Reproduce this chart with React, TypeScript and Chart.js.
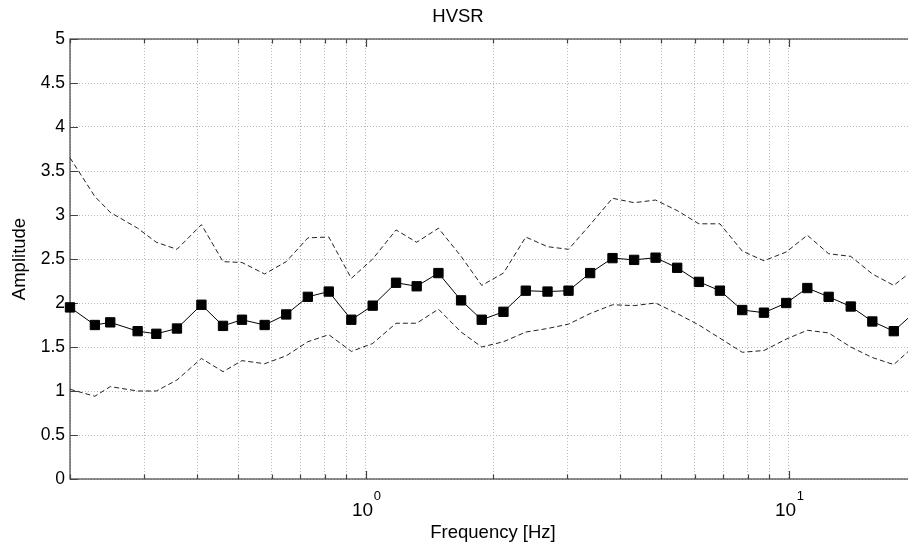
import React, { useEffect, useRef } from "react";
import { Chart, registerables } from "chart.js";

Chart.register(...registerables);

// ---- data ----
const frequencies = [
  0.2, 0.229, 0.249, 0.289, 0.32, 0.358, 0.409, 0.46, 0.51, 0.577,
  0.649, 0.73, 0.818, 0.925, 1.039, 1.18, 1.32, 1.486, 1.681, 1.881,
  2.117, 2.391, 2.691, 3.017, 3.394, 3.833, 4.312, 4.846, 5.451, 6.135,
  6.878, 7.767, 8.741, 9.87, 11.07, 12.43, 14.02, 15.77, 17.72, 19.9,
];
const hvsrMean = [
  1.95, 1.75, 1.78, 1.68, 1.65, 1.71, 1.98, 1.74, 1.81, 1.75,
  1.87, 2.07, 2.13, 1.81, 1.97, 2.23, 2.19, 2.34, 2.03, 1.81,
  1.9, 2.14, 2.13, 2.14, 2.34, 2.51, 2.49, 2.515, 2.4, 2.24,
  2.14, 1.92, 1.89, 2.0, 2.17, 2.07, 1.96, 1.79, 1.68, 1.9,
];
const hvsrUpper = [
  3.65, 3.21, 3.03, 2.85, 2.69, 2.61, 2.89, 2.47, 2.46, 2.33,
  2.47, 2.74, 2.75, 2.28, 2.5, 2.83, 2.69, 2.85, 2.53, 2.2,
  2.34, 2.75, 2.64, 2.61, 2.89, 3.19, 3.14, 3.17, 3.05, 2.9,
  2.9, 2.59, 2.48, 2.58, 2.77, 2.56, 2.53, 2.33, 2.2, 2.39,
];
const hvsrLower = [
  1.02, 0.94, 1.05, 1.0, 1.0, 1.125, 1.37, 1.22, 1.345, 1.31,
  1.4, 1.56, 1.64, 1.45, 1.54, 1.77, 1.77, 1.93, 1.67, 1.5,
  1.56, 1.67, 1.71, 1.76, 1.88, 1.98, 1.97, 2.0, 1.88, 1.75,
  1.6, 1.44, 1.46, 1.59, 1.69, 1.66, 1.5, 1.38, 1.3, 1.52,
];

const xTickValues = [
  0.2, 0.3, 0.4, 0.5, 0.6, 0.7, 0.8, 0.9, 1, 2, 3, 4, 5, 6, 7, 8, 9, 10, 20,
];
const xMajorValues = [1, 10];
const xLabelBases = ["10", "10"];
const xLabelExponents = ["0", "1"];

const FONT = "'Liberation Sans', Arial, Helvetica, sans-serif";
const AXIS_COLOR = "#444444";

const toPoints = (ys: number[]) => frequencies.map((f, i) => ({ x: f, y: ys[i] }));

const matlabAxes = {
  id: "matlabAxes",
  beforeDatasetsDraw(chart: any) {
    const { ctx, chartArea } = chart;
    const { left, right, top, bottom } = chartArea;
    const xs = chart.scales.x;
    const ys = chart.scales.y;
    ctx.save();
    ctx.strokeStyle = AXIS_COLOR;
    ctx.lineWidth = 1.2;
    ctx.setLineDash([]);
    ctx.strokeRect(left, top, right - left, bottom - top);
    ctx.beginPath();
    xTickValues.forEach((v) => {
      const px = Math.round(xs.getPixelForValue(v)) + 0.5;
      const len = xMajorValues.includes(v) ? 8 : 4.5;
      ctx.moveTo(px, bottom);
      ctx.lineTo(px, bottom - len);
      ctx.moveTo(px, top);
      ctx.lineTo(px, top + len);
    });
    ys.ticks.forEach((t: any) => {
      const py = Math.round(ys.getPixelForValue(t.value)) + 0.5;
      ctx.moveTo(left, py);
      ctx.lineTo(left + 8, py);
      ctx.moveTo(right, py);
      ctx.lineTo(right - 8, py);
    });
    ctx.stroke();
    ctx.restore();
  },
  afterDraw(chart: any) {
    const { ctx, chartArea } = chart;
    const xs = chart.scales.x;
    ctx.save();
    ctx.fillStyle = "#000";
    xMajorValues.forEach((v, i) => {
      const px = xs.getPixelForValue(v);
      ctx.font = `19px ${FONT}`;
      ctx.textAlign = "right";
      ctx.textBaseline = "alphabetic";
      ctx.fillText(xLabelBases[i], px + 7.5, chartArea.bottom + 37);
      ctx.font = `13px ${FONT}`;
      ctx.textAlign = "left";
      ctx.fillText(xLabelExponents[i], px + 8, chartArea.bottom + 21);
    });
    ctx.restore();
  },
};

export default function App() {
  const canvasRef = useRef<HTMLCanvasElement | null>(null);

  useEffect(() => {
    if (!canvasRef.current) return;
    const chart = new Chart(canvasRef.current, {
      type: "line",
      data: {
        datasets: [
          {
            label: "Upper",
            data: toPoints(hvsrUpper),
            borderColor: "#222222",
            borderWidth: 1,
            borderDash: [5, 3],
            pointRadius: 0,
            fill: false,
            tension: 0,
            clip: false as any,
          },
          {
            label: "Lower",
            data: toPoints(hvsrLower),
            borderColor: "#222222",
            borderWidth: 1,
            borderDash: [5, 3],
            pointRadius: 0,
            fill: false,
            tension: 0,
            clip: false as any,
          },
          {
            label: "HVSR",
            data: toPoints(hvsrMean),
            borderColor: "#000000",
            borderWidth: 1,
            pointStyle: "rect",
            pointRadius: 6.6,
            pointBackgroundColor: "#000000",
            pointBorderColor: "#000000",
            pointBorderWidth: 1,
            fill: false,
            tension: 0,
            clip: false as any,
          },
        ],
      },
      options: {
        responsive: false,
        animation: false,
        devicePixelRatio: 1,
        events: [],
        layout: { padding: { left: 0, right: 14, top: 0, bottom: 0 } },
        plugins: {
          legend: { display: false },
          tooltip: { enabled: false },
          title: {
            display: true,
            text: "HVSR",
            color: "#000",
            font: { family: FONT, size: 18.5, weight: "normal" as any },
            padding: { top: 5.9, bottom: 10.9 },
          },
        },
        scales: {
          x: {
            type: "logarithmic",
            min: 0.2,
            max: 20,
            afterBuildTicks: (scale: any) => {
              scale.ticks = xTickValues.map((v) => ({ value: v, major: xMajorValues.includes(v) }));
            },
            afterFit: (scale: any) => {
              scale.height = 69;
            },
            ticks: { display: false, autoSkip: false },
            grid: { display: true, drawTicks: false, color: "#b8b8b8", lineWidth: 1 },
            border: { display: false, dash: [1, 2] },
            title: {
              display: true,
              text: "Frequency [Hz]",
              color: "#000",
              font: { family: FONT, size: 18.5 },
              padding: { top: 0, bottom: 3.6 },
            },
          },
          y: {
            type: "linear",
            min: 0,
            max: 5,
            afterFit: (scale: any) => {
              scale.width = 70;
            },
            ticks: {
              stepSize: 0.5,
              color: "#000",
              padding: 5,
              font: { family: FONT, size: 17.5 },
              callback: (value: any) => String(Number(value)),
            },
            grid: { display: true, drawTicks: false, color: "#b8b8b8", lineWidth: 1 },
            border: { display: false, dash: [1, 2] },
            title: {
              display: true,
              text: "Amplitude",
              color: "#000",
              font: { family: FONT, size: 18.5 },
              padding: { top: 8.9, bottom: 0 },
            },
          },
        },
      },
      plugins: [matlabAxes],
    });
    return () => chart.destroy();
  }, []);

  return (
    <div
      style={{
        position: "fixed",
        left: 0,
        top: 0,
        width: 908,
        height: 548,
        overflow: "hidden",
        background: "#fff",
      }}
    >
      <canvas
        ref={canvasRef}
        width={930}
        height={548}
        style={{ display: "block", width: 930, height: 548 }}
      />
    </div>
  );
}
